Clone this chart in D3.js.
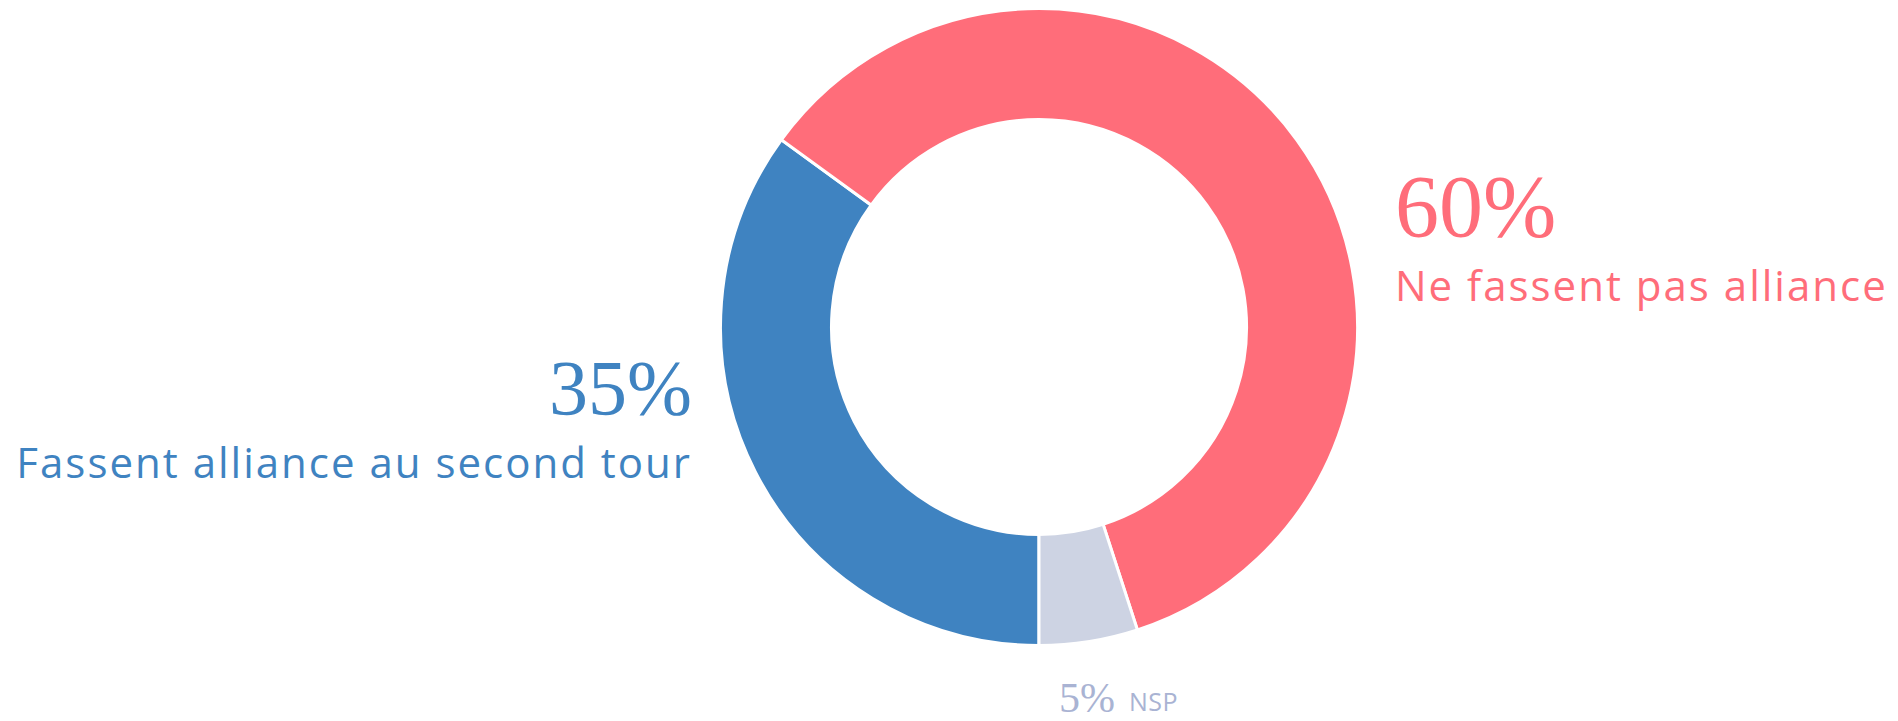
<!DOCTYPE html>
<html>
<head>
<meta charset="utf-8">
<script src="https://cdn.jsdelivr.net/npm/d3@7"></script>
<style>
    html, body { margin: 0; padding: 0; background: #fff; }
    svg { display: block; }
    .donut-pct { font-family: "Liberation Serif", serif; }
    .donut-label { font-family: "Open Sans", "Noto Sans", sans-serif; letter-spacing: 2px; }
</style>
</head>
<body>
<svg id="chart" width="1898" height="721"></svg>
<script>
"use strict";

// data
var categories = ["Fassent alliance au second tour", "Ne fassent pas alliance", "NSP"];
var values = [35, 60, 5];
var percentLabels = ["35%", "60%", "5%"];

var palette = ["#3f83c1", "#ff6d7a", "#cdd3e3"];
var textPalette = ["#3f83c1", "#ff6d7a", "#a9b3d3"];

var width = 1898,
    height = 721,
    center = [1039, 327],
    outerRadius = 318.5,
    innerRadius = 207.5;

var svg = d3.select('#chart');

var color = d3.scaleOrdinal(categories, palette);
var textColor = d3.scaleOrdinal(categories, textPalette);

var pie = d3.pie()
    .sort(null)
    .value(function(d) { return d.value; })
    .startAngle(Math.PI)
    .endAngle(3 * Math.PI);

var arc = d3.arc()
    .innerRadius(innerRadius)
    .outerRadius(outerRadius);

var rows = categories.map(function(c, i) {
    return { category: c, value: values[i], pct: percentLabels[i] };
});

var donut = svg.append('g')
    .attr('class', 'donut')
    .attr('transform', 'translate(' + center[0] + ',' + center[1] + ')');

donut.selectAll('path')
    .data(pie(rows))
    .enter()
    .append('path')
    .attr('d', arc)
    .attr('fill', function(d) { return color(d.data.category); })
    .attr('stroke', '#fff')
    .attr('stroke-width', 3)
    .attr('stroke-linejoin', 'miter');

// label layout: anchor, percentage baseline, label baseline
var labelLayout = {
    "Fassent alliance au second tour": { x: 692, anchor: 'end', pctY: 414, pctSize: 78, labelY: 478, labelSize: 42 },
    "Ne fassent pas alliance": { x: 1395, anchor: 'start', pctY: 236, pctSize: 88, labelY: 301, labelSize: 42 },
    "NSP": { x: 1059, anchor: 'start', pctY: 712, pctSize: 42, labelY: 711, labelSize: 25, inline: true }
};

var labels = svg.append('g').attr('class', 'labels');

rows.forEach(function(d) {
    var l = labelLayout[d.category];
    var pct = labels.append('text')
        .attr('class', 'donut-pct')
        .attr('x', l.x)
        .attr('y', l.pctY)
        .attr('text-anchor', l.anchor)
        .attr('font-size', l.pctSize)
        .attr('fill', textColor(d.category))
        .text(d.pct);

    var lx = l.x;
    if (l.inline) {
        lx = l.x + pct.node().getComputedTextLength() + 14;
    }

    labels.append('text')
        .attr('class', 'donut-label')
        .attr('x', lx)
        .attr('y', l.labelY)
        .attr('text-anchor', l.anchor)
        .attr('font-size', l.labelSize)
        .style('letter-spacing', l.inline ? '0.5px' : null)
        .attr('fill', textColor(d.category))
        .text(d.category);
});
</script>
</body>
</html>
